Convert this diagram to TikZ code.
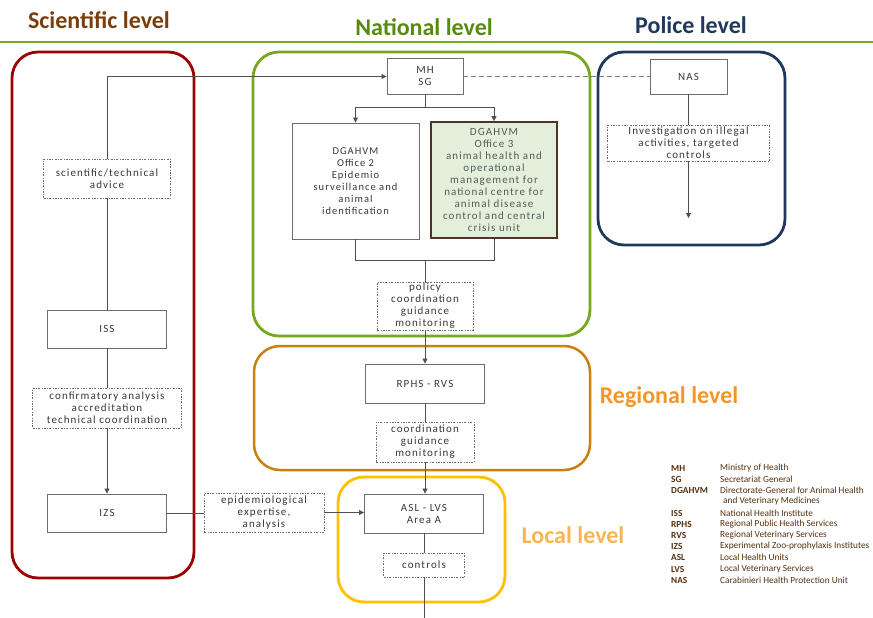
\documentclass[tikz,border=0pt]{standalone}
\usepackage{fontspec}
\setmainfont{Carlito}
\newfontfamily\boxfont{Carlito}[LetterSpace=10]
\usetikzlibrary{arrows.meta,positioning,calc}
\definecolor{scibrown}{RGB}{122,62,10}
\definecolor{natgreen}{RGB}{88,138,18}
\definecolor{polnavy}{RGB}{31,56,92}
\definecolor{regorange}{RGB}{246,148,38}
\definecolor{locorange}{RGB}{248,182,82}
\definecolor{redframe}{RGB}{158,0,0}
\definecolor{greenframe}{RGB}{119,168,30}
\definecolor{orangeframe}{RGB}{200,128,16}
\definecolor{yellowframe}{RGB}{255,192,0}
\definecolor{boxgray}{RGB}{110,110,110}
\definecolor{linkgray}{RGB}{80,80,80}
\definecolor{textgray}{RGB}{55,55,55}
\definecolor{paleolive}{RGB}{226,239,218}
\definecolor{darkbrown}{RGB}{80,52,38}
\definecolor{legbrown}{RGB}{84,48,14}

\begin{document}
\begin{tikzpicture}[x=1pt,y=-1pt,
    unit/.style={draw=boxgray,fill=white,line width=0.9pt,align=center,inner sep=1pt,
      text=textgray,font=\boxfont\fontsize{11}{12}\selectfont},
    task/.style={unit,line width=0.6pt,dash pattern=on 2pt off 1.5pt on 0.6pt off 1.5pt},
    link/.style={draw=linkgray,line width=0.8pt},
    arr/.style={link,-{Triangle[length=5pt,width=5pt]}},
    frame/.style={line width=2.8pt,rounded corners=26pt},
    title/.style={font=\bfseries\fontsize{24}{26}\selectfont},
    legkey/.style={anchor=west,inner sep=0pt,text=legbrown,font=\bfseries\fontsize{9.3}{10}\selectfont},
    legtext/.style={anchor=west,inner sep=0pt,text=legbrown,font=\fontsize{9.3}{10}\selectfont}]

    \useasboundingbox (0,0) rectangle (873,618);

    % Level titles
    \node[title,text=scibrown] (scititle) at (99,20) {Scientific level};
    \node[title,text=natgreen] (nattitle) at (424,27) {National level};
    \node[title,text=polnavy] (poltitle) at (691,25) {Police level};
    \node[title,text=regorange] (regtitle) at (669,397) {Regional level};
    \node[title,text=locorange] (loctitle) at (573,535) {Local level};
    \draw[greenframe,line width=2pt] (0,42) -- (873,42);

    % Level frames
    \draw[frame,redframe] (12,52) rectangle (194,578);
    \draw[frame,greenframe] (253,52) rectangle (590,336);
    \draw[frame,polnavy] (598,52) rectangle (785,245);
    \draw[frame,orangeframe,line width=2.5pt] (254,346) rectangle (590,470);
    \draw[frame,yellowframe] (338,477) rectangle (505,602);

    % National level
    \node[unit,minimum width=76pt,minimum height=36pt] (mh) at (425,76.5) {MH\\SG};
    \node[unit,minimum width=127pt,minimum height=116pt,font=\boxfont\fontsize{10.5}{12}\selectfont] (off2) at (355.5,181)
        {DGAHVM\\Office 2\\Epidemio\\surveillance and\\animal\\identification};
    \node[unit,fill=paleolive,draw=darkbrown,line width=1.6pt,minimum width=126pt,minimum height=116pt,
        text=black!65] (off3) at (494,180)
        {DGAHVM\\Office 3\\animal health and\\operational\\management for\\national centre for\\animal disease\\control and central\\crisis unit};
    \node[task,minimum width=96pt,minimum height=48pt] (policy) at (425,306)
        {policy\\coordination\\guidance\\monitoring};

    % Regional and local level
    \node[unit,minimum width=119pt,minimum height=39pt] (rphs) at (425,383.5) {RPHS - RVS};
    \node[task,minimum width=98pt,minimum height=40pt] (coord) at (425,442)
        {coordination\\guidance\\monitoring};
    \node[unit,minimum width=119pt,minimum height=39pt] (asl) at (424,513.5) {ASL - LVS\\Area A};
    \node[task,minimum width=81pt,minimum height=24pt] (controls) at (424,565) {controls};
    \node[task,minimum width=120pt,minimum height=39pt] (epi) at (264,512.5)
        {epidemiological\\expertise,\\analysis};

    % Scientific level
    \node[task,minimum width=127pt,minimum height=39pt] (advice) at (107,178.5)
        {scientific/technical\\advice};
    \node[unit,minimum width=119pt,minimum height=38pt] (iss) at (107,329) {ISS};
    \node[task,minimum width=149pt,minimum height=40pt] (confirm) at (107,408)
        {confirmatory analysis\\accreditation\\technical coordination};
    \node[unit,minimum width=119pt,minimum height=38pt] (izs) at (107,513) {IZS};

    % Police level
    \node[unit,minimum width=77pt,minimum height=35pt] (nas) at (688.5,76.5) {NAS};
    \node[task,minimum width=162pt,minimum height=36pt] (invest) at (688.5,143)
        {Investigation on illegal\\activities, targeted\\controls};

    % Connectors
    \coordinate (fork) at (425,107);
    \coordinate (join) at (425,260);
    \coordinate (localout) at (424,623);
    \coordinate (nasout) at (688.5,218);
    \draw[link] (mh.south) -- (fork);
    \draw[arr] (fork) -| (off2.north);
    \draw[arr] (fork) -| (off3.north);
    \draw[link] (off2.south) |- (join);
    \draw[link] (off3.south) |- (join);
    \draw[link] (join) -- (policy.north);
    \draw[arr] (policy.south) -- (rphs.north);
    \draw[link] (rphs.south) -- (coord.north);
    \draw[arr] (coord.south) -- (coord.south |- asl.north);
    \draw[link] (asl.south) -- (controls.north);
    \draw[arr] (controls.south) -- (localout);
    \draw[link] (izs.east) -- (izs.east -| epi.west);
    \draw[arr] (epi.east) -- (epi.east -| asl.west);
    \draw[arr] (advice.north) |- (mh.west);
    \draw[link] (iss.north) -- (advice.south);
    \draw[link] (iss.south) -- (confirm.north);
    \draw[arr] (confirm.south) -- (izs.north);
    \draw[link,gray,dashed,dash pattern=on 5pt off 3pt] (mh.east) -- (nas.west);
    \draw[link] (nas.south) -- (invest.north);
    \draw[arr] (invest.south) -- (nasout);

    % Legend
    \foreach \key/\desc/\ypos in {MH/Ministry of Health/468, SG/Secretariat General/479,
        DGAHVM/Directorate-General for Animal Health/490, ISS/National Health Institute/513,
        RPHS/Regional Public Health Services/524, RVS/Regional Veterinary Services/535,
        IZS/Experimental Zoo-prophylaxis Institutes/546, ASL/Local Health Units/557,
        LVS/Local Veterinary Services/569, NAS/Carabinieri Health Protection Unit/580}{
      \node[legkey] (key\key) at (671,\ypos) {\key};
      \node[legtext] (desc\key) at (720,\ypos) {\desc};
    }
    \node[legtext] (descDGAHVMb) at (723,501) {and Veterinary Medicines};
\end{tikzpicture}
\end{document}
